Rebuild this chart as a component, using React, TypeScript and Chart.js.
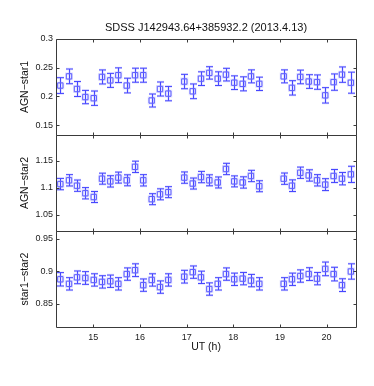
import React, { useEffect, useRef } from "react";
import { Chart, registerables } from "chart.js";

Chart.register(...registerables);

const TITLE = "SDSS J142943.64+385932.2 (2013.4.13)";
const X_TITLE = "UT (h)";
const PANEL_LABELS = ["AGN−star1", "AGN−star2", "star1−star2"];

const utHours = [
  14.293, 14.479, 14.65, 14.829, 15.009, 15.186, 15.364, 15.536, 15.716, 15.894, 16.071,
  16.251, 16.429, 16.607, 16.95, 17.13, 17.307, 17.486, 17.666, 17.843, 18.021, 18.2,
  18.379, 18.557, 19.08, 19.257, 19.436, 19.616, 19.794, 19.971, 20.15, 20.329, 20.52,
];

const agnStar1 = [
  0.219, 0.235, 0.213, 0.199, 0.197, 0.234, 0.228, 0.237, 0.219, 0.237, 0.237,
  0.193, 0.213, 0.205, 0.226, 0.209, 0.231, 0.241, 0.231, 0.238, 0.224, 0.222,
  0.235, 0.222, 0.235, 0.215, 0.234, 0.226, 0.225, 0.202, 0.225, 0.238, 0.224,
];
const agnStar1Err = [
  0.0137, 0.0128, 0.013, 0.0116, 0.0125, 0.0122, 0.0122, 0.0128, 0.0128, 0.0122, 0.0122,
  0.0113, 0.0122, 0.0125, 0.0125, 0.0128, 0.0119, 0.0108, 0.0119, 0.011, 0.0119, 0.0122,
  0.0113, 0.0116, 0.0113, 0.0125, 0.0119, 0.0119, 0.0125, 0.0134, 0.0142, 0.0134, 0.0183,
];

const agnStar2 = [
  1.107, 1.114, 1.104, 1.09, 1.083, 1.117, 1.112, 1.119, 1.114, 1.139, 1.114,
  1.079, 1.088, 1.092, 1.119, 1.108, 1.12, 1.114, 1.11, 1.135, 1.112, 1.11,
  1.122, 1.103, 1.117, 1.104, 1.128, 1.123, 1.114, 1.106, 1.122, 1.117, 1.125,
];
const agnStar2Err = [
  0.0105, 0.0105, 0.0105, 0.0105, 0.0102, 0.0102, 0.0105, 0.0102, 0.0102, 0.0105, 0.0105,
  0.0102, 0.0102, 0.0102, 0.0105, 0.0102, 0.0105, 0.0102, 0.0102, 0.0105, 0.0102, 0.0105,
  0.0105, 0.0102, 0.0105, 0.0108, 0.0105, 0.0105, 0.0105, 0.011, 0.012, 0.0115, 0.015,
];

const star1Star2 = [
  0.888, 0.881, 0.891, 0.89, 0.887, 0.884, 0.885, 0.881, 0.896, 0.902, 0.879,
  0.887, 0.876, 0.887, 0.892, 0.899, 0.891, 0.873, 0.881, 0.896, 0.888, 0.889,
  0.886, 0.881, 0.881, 0.888, 0.893, 0.896, 0.889, 0.904, 0.896, 0.879, 0.9,
];
const star1Star2Err = [
  0.0103, 0.0095, 0.0098, 0.0098, 0.0095, 0.0095, 0.0095, 0.0095, 0.0095, 0.0098, 0.0095,
  0.0095, 0.0095, 0.0095, 0.0098, 0.0095, 0.0095, 0.0095, 0.0095, 0.0095, 0.0095, 0.0095,
  0.0095, 0.0095, 0.0095, 0.0095, 0.0095, 0.0098, 0.0095, 0.0105, 0.0105, 0.0098, 0.0118,
];

const panelLimits = [
  [0.133, 0.3],
  [1.02, 1.198],
  [0.8146, 0.9623],
];
const xLimits = [14.2, 20.63];

const BLUE = "rgb(70,70,255)";
const HALO = "rgba(150,150,255,0.3)";
const FRAME = "#3a3a3a";
const FONT = "'Liberation Sans', Arial, sans-serif";

const errorBarPlugin = {
  id: "errorBars",
  beforeDatasetsDraw(chart: any) {
    const ctx = chart.ctx;
    chart.data.datasets.forEach((ds: any) => {
      if (!ds.errors) return;
      const ys = chart.scales[ds.yAxisID];
      const xs = chart.scales.x;
      ds.data.forEach((pt: any, i: number) => {
        const x = Math.round(xs.getPixelForValue(pt.x)) + 0.5;
        const yTop = ys.getPixelForValue(pt.y + ds.errors[i]);
        const yBot = ys.getPixelForValue(pt.y - ds.errors[i]);
        const cap = 3.5;
        const passes = [
          { c: HALO, w: 2.4 },
          { c: BLUE, w: 1 },
        ];
        for (const p of passes) {
          ctx.save();
          ctx.strokeStyle = p.c;
          ctx.lineWidth = p.w;
          ctx.beginPath();
          ctx.moveTo(x, yTop);
          ctx.lineTo(x, yBot);
          ctx.moveTo(x - cap, yTop);
          ctx.lineTo(x + cap, yTop);
          ctx.moveTo(x - cap, yBot);
          ctx.lineTo(x + cap, yBot);
          ctx.stroke();
          ctx.restore();
        }
      });
    });
  },
};

const framePlugin = {
  id: "frames",
  afterDraw(chart: any) {
    const ctx = chart.ctx;
    const { left, right } = chart.chartArea;
    const xs = chart.scales.x;
    const tl = 3;
    ctx.save();
    ctx.strokeStyle = FRAME;
    ctx.lineWidth = 1;
    ["y1", "y2", "y3"].forEach((id) => {
      const s = chart.scales[id];
      const top = Math.round(s.top) + 0.5;
      const bottom = Math.round(s.bottom) + 0.5;
      const l = Math.round(left) + 0.5;
      const r = Math.round(right) + 0.5;
      ctx.beginPath();
      ctx.rect(l, top, r - l, bottom - top);
      s.ticks.forEach((t: any) => {
        const y = Math.round(s.getPixelForValue(t.value)) + 0.5;
        ctx.moveTo(l, y);
        ctx.lineTo(l + tl, y);
        ctx.moveTo(r, y);
        ctx.lineTo(r - tl, y);
      });
      xs.ticks.forEach((t: any) => {
        const x = Math.round(xs.getPixelForValue(t.value)) + 0.5;
        ctx.moveTo(x, top);
        ctx.lineTo(x, top + tl);
        ctx.moveTo(x, bottom);
        ctx.lineTo(x, bottom - tl);
      });
      ctx.stroke();
    });
    ctx.fillStyle = "#111";
    ctx.font = `11px ${FONT}`;
    ctx.textAlign = "center";
    ctx.textBaseline = "middle";
    ctx.fillText(TITLE, (left + right) / 2, 28);
    ctx.restore();
  },
};

const fmt = (v: any) => String(+Number(v).toFixed(3));

function yAxis(idx: number) {
  return {
    type: "linear",
    position: "left",
    stack: "panels",
    stackWeight: 1,
    min: panelLimits[idx][0],
    max: panelLimits[idx][1],
    grid: { display: false, drawTicks: false },
    border: { display: false },
    ticks: {
      stepSize: 0.05,
      includeBounds: false,
      padding: 3,
      color: "#222",
      font: { size: 9, family: FONT },
      callback: fmt,
    },
    title: {
      display: true,
      text: PANEL_LABELS[idx],
      color: "#111",
      font: { size: 10.5, family: FONT },
      padding: { top: 18.7, bottom: 0 },
    },
    afterFit(scale: any) {
      scale.width = 56;
    },
  };
}

function seriesSets(values: number[], errs: number[], axis: string) {
  const pts = utHours.map((x, i) => ({ x, y: values[i] }));
  return [
    {
      data: pts,
      yAxisID: axis,
      showLine: false,
      pointStyle: "rect",
      pointRadius: 4,
      pointBorderWidth: 2.2,
      pointBorderColor: HALO,
      pointBackgroundColor: "rgba(0,0,0,0)",
    },
    {
      data: pts,
      yAxisID: axis,
      errors: errs,
      showLine: false,
      pointStyle: "rect",
      pointRadius: 3.8,
      pointBorderWidth: 1,
      pointBorderColor: BLUE,
      pointBackgroundColor: "rgba(0,0,0,0)",
    },
  ];
}

export default function App() {
  const ref = useRef<HTMLCanvasElement>(null);
  useEffect(() => {
    if (!ref.current) return;
    const chart = new Chart(ref.current, {
      type: "scatter",
      data: {
        datasets: [
          ...seriesSets(agnStar1, agnStar1Err, "y1"),
          ...seriesSets(agnStar2, agnStar2Err, "y2"),
          ...seriesSets(star1Star2, star1Star2Err, "y3"),
        ] as any,
      },
      options: {
        animation: false,
        responsive: false,
        devicePixelRatio: 1,
        layout: { padding: { top: 39, right: 18, left: 0, bottom: 0 } },
        plugins: { legend: { display: false }, tooltip: { enabled: false } },
        scales: {
          x: {
            type: "linear",
            position: "bottom",
            min: xLimits[0],
            max: xLimits[1],
            grid: { display: false, drawTicks: false },
            border: { display: false },
            ticks: {
              stepSize: 1,
              includeBounds: false,
              padding: 5,
              color: "#222",
              font: { size: 9, family: FONT },
            },
            title: {
              display: true,
              text: X_TITLE,
              color: "#111",
              font: { size: 10.5, family: FONT },
              padding: { top: 0, bottom: 32.4 },
            },
            afterFit(scale: any) {
              scale.height = 59;
            },
          },
          y3: yAxis(2),
          y2: yAxis(1),
          y1: yAxis(0),
        } as any,
      },
      plugins: [errorBarPlugin, framePlugin],
    });
    return () => chart.destroy();
  }, []);
  return (
    <div style={{ position: "absolute", left: 0, top: 0, width: 374, height: 386, background: "#fff" }}>
      <canvas ref={ref} width={374} height={386} style={{ width: 374, height: 386 }} />
    </div>
  );
}
